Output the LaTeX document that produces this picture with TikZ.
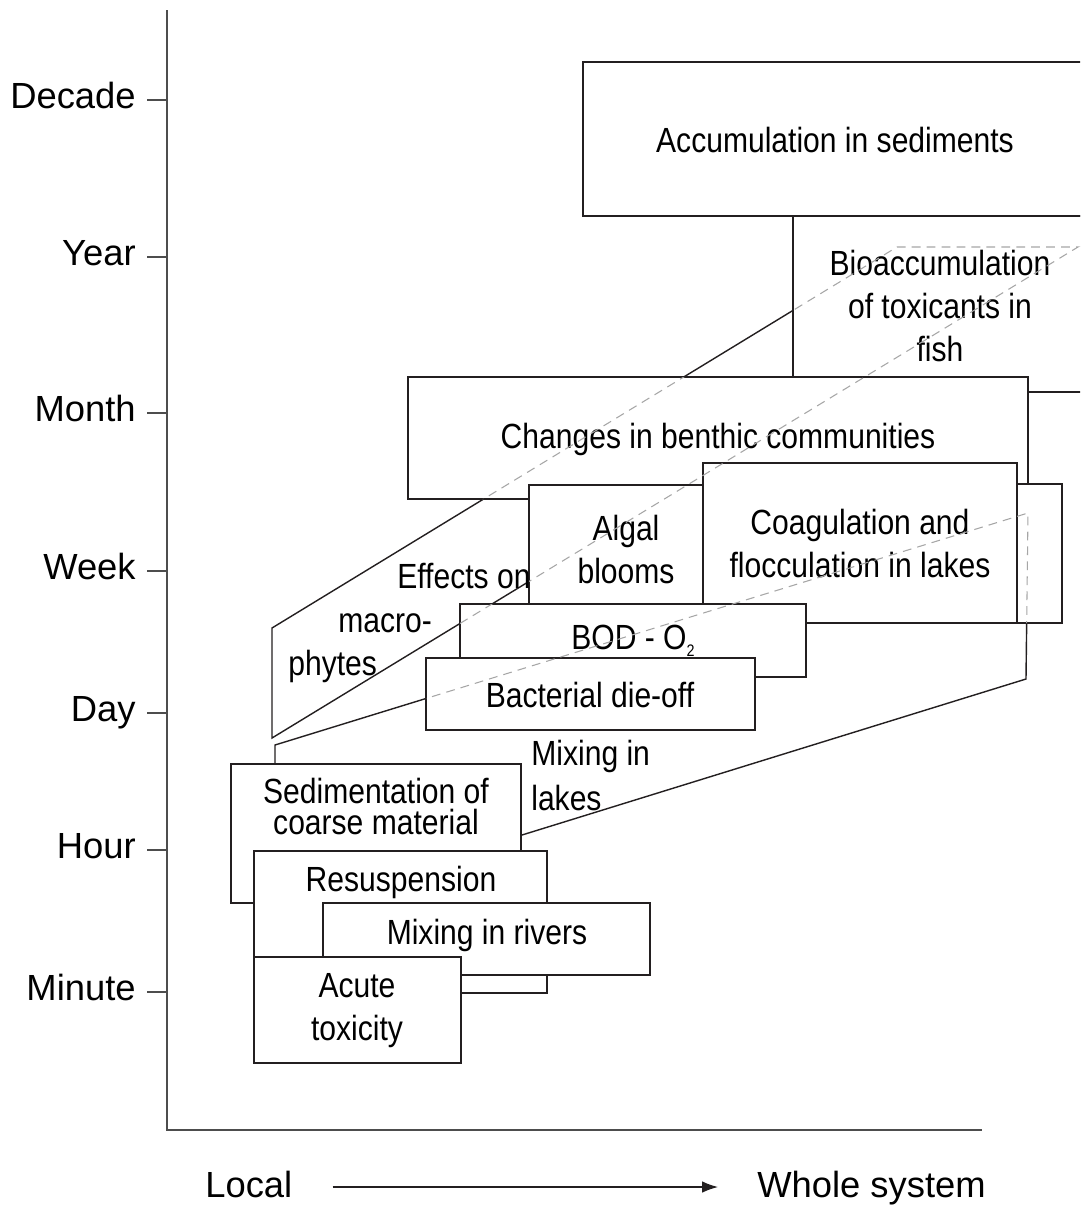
\documentclass[tikz,border=0pt]{standalone}
\usepackage{fontspec}
\setmainfont{Liberation Sans}
\newfontfamily\boxfont[FakeStretch=0.86]{Liberation Sans}
\usepackage{tikz}
\usetikzlibrary{arrows.meta}
\definecolor{Ink}{HTML}{231F20}
\definecolor{Axis}{HTML}{4D4D4D}
\definecolor{Hid}{HTML}{A6A6A6}

\begin{document}
\begin{tikzpicture}[x=0.02cm,y=-0.02cm,
    box/.style={draw=Ink,fill=white,line width=0.8pt},
    outline/.style={Ink,line width=0.8pt},
    hid/.style={Hid,line width=0.6pt,dash pattern=on 5pt off 3.5pt},
    txt/.style={font=\boxfont\fontsize{19.9}{24.4}\selectfont,inner sep=0pt,align=center,anchor=base},
    scalelab/.style={font=\fontsize{20.7}{24}\selectfont,inner sep=0pt}]
  \clip (0,0) rectangle (1080,1205);
  % axes and time scale
  \draw[Axis,line width=0.8pt] (167,10) -- (167,1130) -- (982,1130);
  \foreach \y/\lab in {100/Decade,257/Year,413/Month,571/Week,713/Day,850/Hour,992/Minute} {
    \draw[Axis,line width=0.8pt] (147,\y) -- (167,\y);
    \node[scalelab,anchor=base east] (t-\lab) at (136,\y+8) {\lab};
  }
  % outlines behind the boxes
  \draw[outline] (272,628) -- (897,247) -- (1078,247) -- (272,738) -- cycle;
  \draw[outline] (275,745) -- (1028,513) -- (1026,679) -- (522,835) -- (275,911) -- cycle;
  % boxes, back to front
  \foreach \xa/\ya/\xb/\yb in {583/62/1090/216, 793/216/1090/392, 408/377/1028/499,
      900/484/1062/623, 529/485/703/604, 703/463/1017/623, 460/604/806/677,
      426/658/755/730, 231/764/521/903, 254/851/547/993, 323/903/650/975,
      254/957/461/1063}
    \draw[box] (\xa,\ya) rectangle (\xb,\yb);
  % (multi-line labels sit on their last line)
  \node[txt] (acc) at (835,152) {Accumulation in sediments};
  \node[txt] (bio) at (940,361) {Bioaccumulation\\of toxicants in\\fish};
  \node[txt] (ben) at (718,448) {Changes in benthic communities};
  \node[txt] (alg) at (626,583) {Algal\\blooms};
  \node[txt] (coa) at (860,577) {Coagulation and\\flocculation in lakes};
  \node[txt] (bod) at (633,649) {BOD - O\raisebox{-4.5pt}{\fontsize{9.5}{10}\selectfont 2}};
  \node[txt] (bac) at (590,707) {Bacterial die-off};
  \node[txt,anchor=base west] (mac1) at (397,588) {Effects on};
  \node[txt,anchor=base west] (mac2) at (338,632) {macro-};
  \node[txt,anchor=base west] (mac3) at (288,675) {phytes};
  \node[txt,align=left,anchor=base west,font=\boxfont\fontsize{19.9}{25.5}\selectfont] (mil) at (531,810) {Mixing in\\lakes};
  \node[txt,font=\boxfont\fontsize{19.9}{17.6}\selectfont] (sed) at (376,834) {Sedimentation of\\coarse material};
  \node[txt] (res) at (401,891) {Resuspension};
  \node[txt] (mir) at (487,944) {Mixing in rivers};
  \node[txt] (acu) at (357,1040) {Acute\\toxicity};
  % hidden parts of the outlines
  \begin{scope}
    \clip (793,216) rectangle (1090,392) (408,377) rectangle (1028,499)
      (900,484) rectangle (1062,623) (529,485) rectangle (703,604)
      (703,463) rectangle (1017,623) (460,604) rectangle (806,677)
      (426,658) rectangle (755,730);
    \draw[hid] (272,628) -- (897,247) -- (1078,247) -- (272,738) -- cycle;
    \draw[hid] (275,745) -- (1028,513) -- (1026,679) -- (522,835) -- (275,911) -- cycle;
  \end{scope}
  % spatial scale
  \node[scalelab,anchor=base west] (loc) at (205,1197) {Local};
  \node[scalelab,anchor=base west] (whole) at (757,1197) {Whole system};
  \draw[Ink,line width=0.7pt,-{Latex[length=9pt,width=6.5pt]},shorten <=0.8cm,shorten >=0.78cm]
    (loc.east |- 0,1187) -- (whole.west |- 0,1187);
\end{tikzpicture}
\end{document}
